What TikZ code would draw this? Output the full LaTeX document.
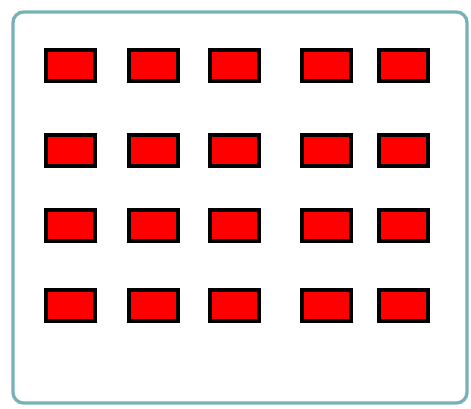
\documentclass[tikz,border=0pt]{standalone}
\definecolor{framecol}{RGB}{118,178,182}
\tikzset{
    seat/.style={draw=black, fill=red, line width=3.4pt, inner sep=0pt,
        minimum width=1.48cm, minimum height=0.93cm}
}
\begin{document}
\begin{tikzpicture}[x=0.03cm, y=-0.03cm]
    \useasboundingbox (0,0) rectangle (471,408);
    \draw[framecol, line width=2.8pt, rounded corners=9pt] (13,12) rectangle (467,403);
    % four rows of five seats
    \foreach \cy [count=\r] in {65.5,150.5,225.5,305.5}
        \foreach \cx [count=\c] in {70.5,153.5,234.5,326.5,403.5}
            \node[seat] (r\r c\c) at (\cx,\cy) {};
\end{tikzpicture}
\end{document}
